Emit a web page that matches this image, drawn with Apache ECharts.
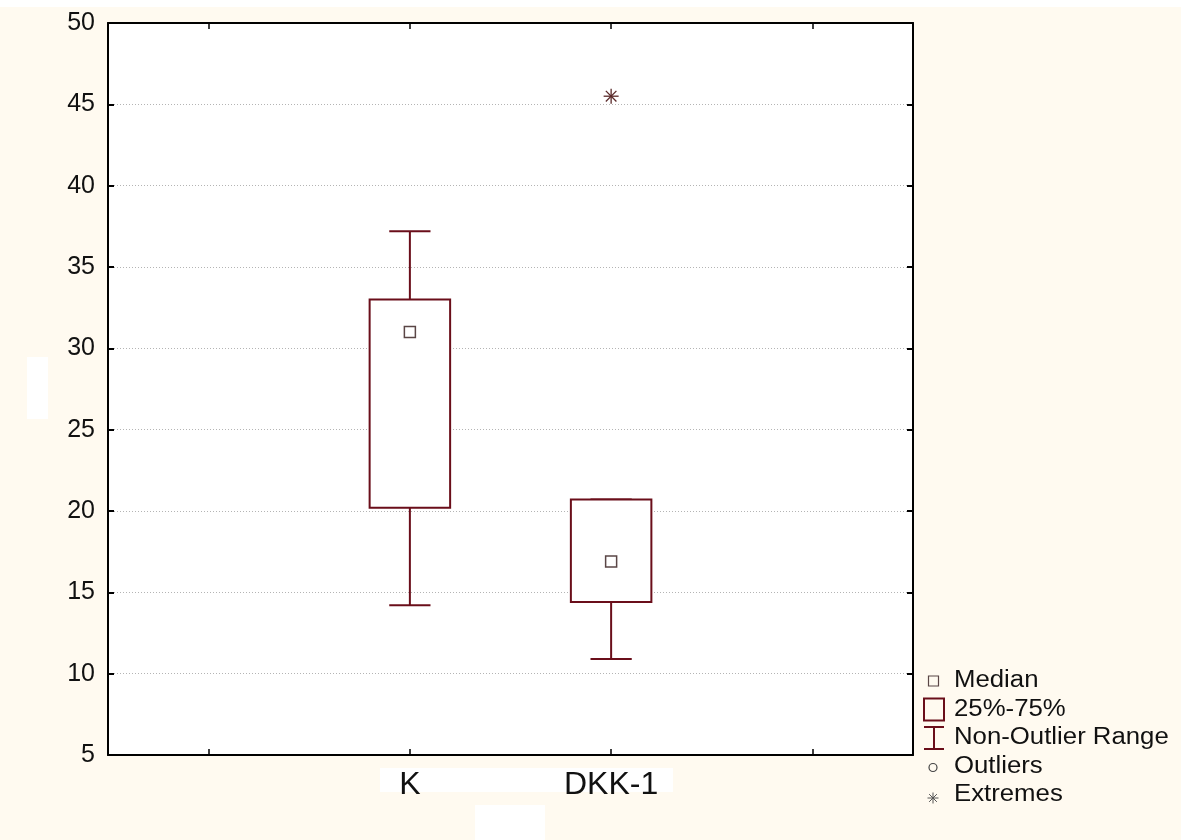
<!DOCTYPE html>
<html>
<head>
<meta charset="utf-8">
<script src="https://cdn.jsdelivr.net/npm/echarts@6/dist/echarts.min.js"></script>
<style>
html,body{margin:0;padding:0;background:#fffaf0;}
#chart{width:1181px;height:840px;}
</style>
</head>
<body>
<div id="chart"></div>
<script>
// Categories (outer blank slots give the padding seen on the axis)
var categories = ['', 'K', 'DKK-1', ''];
var yTicks = [5, 10, 15, 20, 25, 30, 35, 40, 45, 50];
// Box statistics per group
var groupNames = ['K', 'DKK-1'];
var whiskerLow = [14.2, 10.9];
var q1 = [20.2, 14.4];
var medians = [31.0, 16.9];
var q3 = [33.0, 20.7];
var whiskerHigh = [37.2, 20.7];
// Extremes
var extremeCats = ['DKK-1'];
var extremeVals = [45.5];
var legendLabels = ['Median', '25%-75%', 'Non-Outlier Range', 'Outliers', 'Extremes'];

var RED = '#6a0e1a';
var FONT = 'Liberation Sans, Arial, sans-serif';
var boxData = groupNames.map(function (g, i) {
  return [g, whiskerLow[i], q1[i], medians[i], q3[i], whiskerHigh[i]];
});
var extremeData = extremeCats.map(function (c, i) { return [c, extremeVals[i]]; });

function renderBox(params, api) {
  var cat = api.value(0);
  var pLow = api.coord([cat, api.value(1)]);
  var pQ1 = api.coord([cat, api.value(2)]);
  var pMed = api.coord([cat, api.value(3)]);
  var pQ3 = api.coord([cat, api.value(4)]);
  var pHigh = api.coord([cat, api.value(5)]);
  var x = pQ1[0];
  var bw = api.size([1, 0])[0] * 0.40;
  var cw = api.size([1, 0])[0] * 0.205;
  var ls = {stroke: RED, lineWidth: 2, fill: null};
  var children = [
    {type: 'line', shape: {x1: x, y1: pQ3[1], x2: x, y2: pHigh[1]}, style: ls},
    {type: 'line', shape: {x1: x - cw / 2, y1: pHigh[1], x2: x + cw / 2, y2: pHigh[1]}, style: ls},
    {type: 'line', shape: {x1: x, y1: pQ1[1], x2: x, y2: pLow[1]}, style: ls},
    {type: 'line', shape: {x1: x - cw / 2, y1: pLow[1], x2: x + cw / 2, y2: pLow[1]}, style: ls},
    {type: 'rect', shape: {x: x - bw / 2, y: pQ3[1], width: bw, height: pQ1[1] - pQ3[1]},
      style: {stroke: RED, lineWidth: 2, fill: '#ffffff'}},
    {type: 'rect', shape: {x: x - 5.5, y: pMed[1] - 5.5, width: 11, height: 11},
      style: {stroke: '#5a4646', lineWidth: 1.5, fill: '#ffffff'}}
  ];
  return {type: 'group', children: children};
}

function asteriskLines(cx, cy, r, color, lw, z) {
  var d = r * 0.7071;
  var segs = [[0, -r, 0, r], [-r, 0, r, 0], [-d, -d, d, d], [-d, d, d, -d]];
  return segs.map(function (s) {
    return {type: 'line', shape: {x1: cx + s[0], y1: cy + s[1], x2: cx + s[2], y2: cy + s[3]},
      style: {stroke: color, lineWidth: lw}, z: z};
  });
}

function renderExtreme(params, api) {
  var p = api.coord([api.value(0), api.value(1)]);
  return {type: 'group', children: asteriskLines(p[0], p[1], 7.5, '#5a2a2a', 1.3)};
}

var chart = echarts.init(document.getElementById('chart'), null, {renderer: 'canvas'});

var axisLineStyle = {color: '#000', width: 2};
var legX = 934, legY0 = 681, legDy = 28.5, legTextX = 954;
var legendGraphics = [];
legendLabels.forEach(function (t, i) {
  legendGraphics.push({type: 'text', x: legTextX, y: legY0 + i * legDy, scaleX: 1.12, z: 10,
    style: {text: t, x: 0, y: 0, fontSize: 23, fontFamily: FONT,
      fill: '#111', textVerticalAlign: 'middle', verticalAlign: 'middle'}});
});
var iconY = function (i) { return legY0 + i * legDy; };
legendGraphics.push(
  {type: 'rect', shape: {x: legX - 5.5, y: iconY(0) - 5, width: 10, height: 10},
    style: {stroke: '#5a4646', lineWidth: 1.2, fill: 'none'}, z: 10},
  {type: 'rect', shape: {x: legX - 10, y: iconY(1) - 11, width: 20, height: 22},
    style: {stroke: RED, lineWidth: 2, fill: 'none'}, z: 10},
  {type: 'line', shape: {x1: legX - 10, y1: iconY(2) - 11, x2: legX + 10, y2: iconY(2) - 11},
    style: {stroke: RED, lineWidth: 2}, z: 10},
  {type: 'line', shape: {x1: legX, y1: iconY(2) - 11, x2: legX, y2: iconY(2) + 11},
    style: {stroke: RED, lineWidth: 2}, z: 10},
  {type: 'line', shape: {x1: legX - 10, y1: iconY(2) + 11, x2: legX + 10, y2: iconY(2) + 11},
    style: {stroke: RED, lineWidth: 2}, z: 10},
  {type: 'circle', shape: {cx: legX - 1, cy: iconY(3) + 1, r: 4},
    style: {stroke: '#444', lineWidth: 1.2, fill: 'none'}, z: 10}
);
legendGraphics = legendGraphics.concat(asteriskLines(legX - 1, iconY(4) + 3, 5.5, '#555', 1, 10));

var option = {
  backgroundColor: '#fffaf0',
  animation: false,
  graphic: [
    {type: 'rect', shape: {x: 0, y: 0, width: 1181, height: 7}, style: {fill: '#ffffff'}, z: -10},
    {type: 'rect', shape: {x: 27, y: 357, width: 21, height: 62}, style: {fill: '#ffffff'}, z: -10},
    {type: 'rect', shape: {x: 475, y: 805, width: 70, height: 35}, style: {fill: '#ffffff'}, z: -10},
    {type: 'rect', shape: {x: 380, y: 768, width: 293, height: 24}, style: {fill: '#ffffff'}, z: -10}
  ].concat(legendGraphics),
  grid: {left: 108, top: 23, right: 268, bottom: 85, show: true,
    backgroundColor: '#ffffff', borderColor: '#000', borderWidth: 0},
  xAxis: [{
    type: 'category', data: categories, position: 'bottom',
    axisLine: {show: true, lineStyle: axisLineStyle},
    axisTick: {show: true, inside: true, alignWithLabel: true, length: 6, lineStyle: {color: '#000', width: 1.5}},
    axisLabel: {fontSize: 32, color: '#111', margin: 14, fontFamily: FONT},
    splitLine: {show: false}
  }, {
    type: 'category', data: categories, position: 'top',
    axisLine: {show: true, lineStyle: axisLineStyle},
    axisTick: {show: true, inside: true, alignWithLabel: true, length: 6, lineStyle: {color: '#000', width: 1.5}},
    axisLabel: {show: false}, splitLine: {show: false}
  }],
  yAxis: [{
    type: 'value', min: yTicks[0], max: yTicks[yTicks.length - 1], interval: 5, position: 'left',
    axisLine: {show: true, lineStyle: axisLineStyle},
    axisTick: {show: true, inside: true, length: 6, lineStyle: {color: '#000', width: 2}},
    axisLabel: {fontSize: 25, color: '#111', margin: 13, fontFamily: FONT},
    splitLine: {show: true, lineStyle: {color: '#b4b4b4', width: 1, type: [1, 2]}}
  }, {
    type: 'value', min: yTicks[0], max: yTicks[yTicks.length - 1], interval: 5, position: 'right',
    axisLine: {show: true, lineStyle: axisLineStyle},
    axisTick: {show: true, inside: true, length: 6, lineStyle: {color: '#000', width: 2}},
    axisLabel: {show: false}, splitLine: {show: false}
  }],
  series: [{
    type: 'custom', renderItem: renderBox, data: boxData, xAxisIndex: 0, yAxisIndex: 0,
    encode: {x: 0, y: [1, 2, 3, 4, 5]}, z: 5
  }, {
    type: 'custom', renderItem: renderExtreme, data: extremeData, xAxisIndex: 0, yAxisIndex: 0,
    encode: {x: 0, y: 1}, z: 5
  }]
};
chart.setOption(option);
</script>
</body>
</html>
